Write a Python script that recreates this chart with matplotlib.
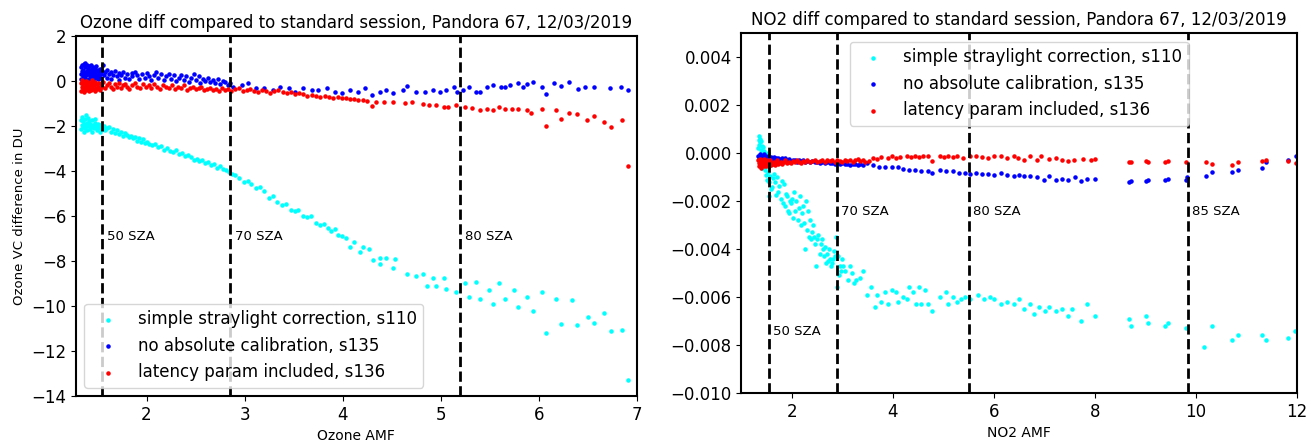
import numpy as np
import matplotlib
matplotlib.use("Agg")
import matplotlib.pyplot as plt

# ---------------- Ozone panel: (AMF, VC difference in DU) ----------------
o3_s110 = [(1.33, -1.75), (1.33, -2.15), (1.34, -1.95), (1.34, -1.6), (1.35, -2.05), (1.35, -1.8),
           (1.36, -2.25), (1.36, -1.9), (1.37, -1.7), (1.37, -2.1), (1.38, -1.5), (1.38, -1.95),
           (1.39, -2.2), (1.39, -1.85), (1.40, -2.0), (1.40, -1.65), (1.41, -1.8), (1.42, -2.15),
           (1.42, -1.9), (1.43, -2.05), (1.44, -1.75), (1.44, -2.25), (1.45, -1.95), (1.46, -2.1),
           (1.47, -1.85), (1.47, -1.7), (1.48, -2.0), (1.49, -2.2), (1.50, -1.9), (1.50, -2.05),
           (1.51, -1.95), (1.52, -2.1), (1.53, -2.25), (1.54, -1.95), (1.55, -2.05), (1.56, -2.15),
           (1.57, -2.0), (1.58, -2.2), (1.60, -2.1), (1.62, -2.05), (1.64, -2.25), (1.66, -2.15),
           (1.68, -2.3), (1.70, -2.2), (1.72, -2.35), (1.74, -2.25), (1.76, -2.45), (1.78, -2.3),
           (1.80, -2.4), (1.82, -2.5), (1.84, -2.45), (1.86, -2.55), (1.88, -2.5), (1.90, -2.65),
           (1.92, -2.55), (1.94, -2.7), (1.96, -2.6), (1.98, -2.75), (2.00, -2.7), (2.03, -2.8),
           (2.06, -2.85), (2.09, -2.8), (2.12, -2.95), (2.15, -2.9), (2.18, -3.05), (2.21, -3.0),
           (2.24, -3.1), (2.27, -3.15), (2.30, -3.05), (2.33, -3.25), (2.36, -3.2), (2.39, -3.35),
           (2.42, -3.3), (2.45, -3.4), (2.48, -3.5), (2.51, -3.45), (2.54, -3.55), (2.57, -3.5),
           (2.60, -3.65), (2.63, -3.6), (2.66, -3.75), (2.69, -3.7), (2.72, -3.85), (2.75, -3.8),
           (2.78, -3.9), (2.81, -3.95), (2.84, -4.05), (2.87, -4.15), (2.90, -4.2), (2.94, -4.3),
           (2.99, -4.5), (3.03, -4.45), (3.07, -4.6), (3.12, -4.75), (3.16, -4.7), (3.20, -4.9),
           (3.25, -5.2), (3.29, -5.1), (3.33, -5.4), (3.38, -5.5), (3.42, -5.45), (3.47, -5.75),
           (3.51, -5.8), (3.55, -5.75), (3.60, -6.0), (3.64, -6.05), (3.68, -6.0), (3.73, -6.3),
           (3.77, -6.4), (3.81, -6.35), (3.85, -6.55), (3.88, -6.65), (3.92, -6.6), (3.95, -6.85),
           (3.99, -6.9), (4.03, -7.0), (4.08, -7.4), (4.12, -7.15), (4.18, -7.6), (4.21, -7.4),
           (4.27, -7.45), (4.31, -7.95), (4.38, -8.15), (4.38, -7.85), (4.44, -7.85), (4.51, -8.3),
           (4.53, -7.9), (4.66, -8.6), (4.75, -8.65), (4.82, -8.6), (4.86, -9.1), (4.92, -8.75),
           (4.95, -9.1), (5.03, -8.75), (5.06, -9.25), (5.16, -9.4), (5.25, -9.0), (5.29, -9.6),
           (5.36, -8.95), (5.40, -9.7), (5.49, -9.3), (5.53, -9.9), (5.60, -9.0), (5.66, -9.7),
           (5.75, -9.3), (5.79, -10.05), (5.88, -9.6), (5.94, -10.2), (6.03, -9.4), (6.08, -11.2),
           (6.18, -9.7), (6.23, -10.8), (6.34, -9.75), (6.39, -10.85), (6.50, -10.5), (6.56, -10.75),
           (6.67, -10.3), (6.74, -11.1), (6.85, -11.05), (6.91, -13.3)]

o3_s135 = [(1.33, 0.6), (1.33, 0.3), (1.33, 0.1), (1.34, 0.45), (1.34, 0.7), (1.35, 0.5), (1.35, 0.2),
           (1.35, 0.05), (1.36, 0.75), (1.36, 0.35), (1.37, 0.8), (1.37, 0.6), (1.37, 0.15), (1.38, 0.4),
           (1.38, 0.25), (1.39, 0.7), (1.39, 0.45), (1.39, 0.05), (1.40, 0.55), (1.40, 0.3), (1.41, 0.65),
           (1.41, 0.4), (1.41, 0.1), (1.42, 0.5), (1.42, 0.2), (1.43, 0.7), (1.43, 0.35), (1.43, 0.15),
           (1.44, 0.55), (1.44, 0.25), (1.45, 0.6), (1.45, 0.4), (1.45, 0.05), (1.46, 0.45), (1.46, 0.2),
           (1.47, 0.55), (1.47, 0.3), (1.48, 0.65), (1.48, 0.15), (1.49, 0.45), (1.49, 0.25), (1.50, 0.5),
           (1.50, 0.1), (1.51, 0.35), (1.51, 0.2), (1.52, 0.55), (1.53, 0.4), (1.53, 0.15), (1.54, 0.3),
           (1.55, 0.45), (1.56, 0.7), (1.57, 0.25), (1.58, 0.4), (1.60, 0.5), (1.60, 0.15), (1.62, 0.3),
           (1.64, 0.4), (1.64, 0.1), (1.66, 0.25), (1.68, 0.45), (1.70, 0.2), (1.72, 0.35), (1.72, 0.05),
           (1.74, 0.25), (1.76, 0.4), (1.78, 0.15), (1.80, 0.3), (1.82, 0.1), (1.85, 0.35), (1.85, 0.2),
           (1.88, 0.4), (1.90, 0.25), (1.92, 0.1), (1.95, 0.3), (1.98, 0.15), (2.00, 0.35), (2.02, 0.2),
           (2.05, 0.05), (2.08, 0.25), (2.10, 0.4), (2.12, 0.15), (2.15, 0.3), (2.18, 0.05), (2.20, 0.2),
           (2.23, 0.3), (2.25, 0.1), (2.28, 0.25), (2.30, 0.0), (2.33, 0.15), (2.35, 0.25), (2.38, 0.05),
           (2.40, 0.2), (2.43, -0.05), (2.45, 0.15), (2.48, 0.3), (2.50, 0.05), (2.53, 0.2), (2.55, -0.1),
           (2.58, 0.1), (2.60, 0.0), (2.63, 0.15), (2.65, -0.05), (2.68, 0.05), (2.70, -0.1), (2.73, 0.1),
           (2.75, -0.15), (2.78, 0.0), (2.80, -0.05), (2.83, -0.2), (2.85, -0.1), (2.88, -0.25),
           (2.97, -0.18), (3.03, -0.1), (3.12, -0.33), (3.20, -0.33), (3.29, -0.4), (3.36, -0.25),
           (3.45, -0.33), (3.51, -0.48), (3.60, -0.33), (3.69, -0.4), (3.75, -0.4), (3.84, -0.33),
           (3.92, -0.48), (3.99, -0.55), (4.08, -0.4), (4.16, -0.48), (4.23, -0.33), (4.30, -0.62),
           (4.38, -0.48), (4.44, -0.4), (4.51, -0.55), (4.62, -0.4), (4.66, -0.22), (4.75, -0.48),
           (4.84, -0.48), (4.92, -0.4), (4.99, -0.48), (5.05, -0.4), (5.14, -0.25), (5.17, -0.48),
           (5.23, -0.4), (5.29, -0.28), (5.36, -0.48), (5.40, -0.48), (5.47, -0.28), (5.53, -0.18),
           (5.62, -0.25), (5.66, -0.28), (5.71, -0.18), (5.79, -0.1), (5.84, -0.28), (5.88, -0.13),
           (5.94, -0.07), (6.03, -0.25), (6.08, -0.58), (6.16, -0.1), (6.23, -0.22), (6.31, -0.07),
           (6.40, -0.37), (6.47, -0.28), (6.56, -0.28), (6.73, -0.33), (6.84, -0.28), (6.91, -0.4)]

o3_s136 = [(1.33, -0.1), (1.33, -0.45), (1.34, -0.25), (1.34, 0.05), (1.35, -0.35), (1.35, -0.15),
           (1.36, -0.5), (1.36, -0.05), (1.37, -0.3), (1.37, -0.2), (1.38, 0.0), (1.38, -0.4),
           (1.39, -0.15), (1.39, -0.35), (1.40, -0.25), (1.40, -0.05), (1.41, -0.45), (1.41, -0.2),
           (1.42, -0.1), (1.42, -0.3), (1.43, -0.4), (1.43, -0.15), (1.44, 0.05), (1.44, -0.25),
           (1.45, -0.35), (1.45, -0.1), (1.46, -0.2), (1.47, -0.45), (1.47, -0.05), (1.48, -0.3),
           (1.49, -0.15), (1.49, -0.35), (1.50, -0.25), (1.51, -0.1), (1.52, -0.3), (1.53, -0.4),
           (1.54, -0.15), (1.55, -0.25), (1.56, -0.05), (1.58, -0.3), (1.60, -0.2), (1.62, -0.1),
           (1.64, -0.25), (1.66, -0.35), (1.68, -0.15), (1.70, -0.25), (1.72, -0.1), (1.74, -0.3),
           (1.76, -0.2), (1.78, -0.15), (1.80, -0.25), (1.82, -0.35), (1.85, -0.2), (1.88, -0.1),
           (1.90, -0.25), (1.93, -0.3), (1.96, -0.15), (1.99, -0.25), (2.02, -0.2), (2.05, -0.3),
           (2.08, -0.15), (2.11, -0.25), (2.14, -0.35), (2.17, -0.2), (2.20, -0.25), (2.23, -0.3),
           (2.26, -0.2), (2.29, -0.35), (2.32, -0.25), (2.35, -0.3), (2.38, -0.2), (2.41, -0.4),
           (2.44, -0.3), (2.47, -0.25), (2.50, -0.35), (2.53, -0.3), (2.56, -0.25), (2.59, -0.4),
           (2.62, -0.35), (2.65, -0.3), (2.68, -0.4), (2.71, -0.35), (2.74, -0.45), (2.77, -0.3),
           (2.80, -0.4), (2.83, -0.35), (2.86, -0.45), (2.90, -0.38), (2.94, -0.3), (2.98, -0.45),
           (3.02, -0.4), (3.06, -0.35), (3.10, -0.45), (3.14, -0.5), (3.18, -0.4), (3.22, -0.45),
           (3.26, -0.55), (3.30, -0.45), (3.34, -0.4), (3.39, -0.5), (3.43, -0.55), (3.47, -0.5),
           (3.51, -0.58), (3.56, -0.55), (3.60, -0.6), (3.64, -0.65), (3.69, -0.62), (3.73, -0.65),
           (3.77, -0.7), (3.82, -0.68), (3.86, -0.7), (3.90, -0.75), (3.95, -0.73), (3.99, -0.78),
           (4.03, -0.77), (4.08, -0.82), (4.12, -0.8), (4.16, -0.85), (4.21, -0.85), (4.25, -0.88),
           (4.30, -1.11), (4.34, -0.92), (4.42, -0.92), (4.51, -0.92), (4.64, -1.0), (4.71, -0.92),
           (4.82, -1.03), (4.88, -1.07), (4.95, -1.07), (5.03, -1.14), (5.08, -1.14), (5.16, -1.08),
           (5.25, -1.17), (5.32, -1.22), (5.40, -1.29), (5.47, -1.25), (5.53, -1.29), (5.60, -1.14),
           (5.66, -1.26), (5.73, -1.26), (5.79, -1.26), (5.88, -1.29), (5.92, -1.44), (6.03, -1.26),
           (6.08, -2.0), (6.18, -1.29), (6.23, -1.69), (6.31, -1.44), (6.39, -1.49), (6.49, -1.74),
           (6.56, -1.55), (6.67, -1.84), (6.74, -2.07), (6.85, -1.74), (6.91, -3.77)]

o3_sza_x = [1.55, 2.85, 5.2]
o3_sza_labels = ["50 SZA", "70 SZA", "80 SZA"]

# ---------------- NO2 panel: (AMF, VC difference in units of 1e-3) ----------------
no2_s110 = [(1.33, 0.2), (1.34, 0.55), (1.34, -0.1), (1.35, 0.7), (1.35, 0.35), (1.36, 0.6), (1.36, -0.25),
            (1.37, 0.45), (1.38, 0.15), (1.38, 0.5), (1.39, -0.4), (1.40, 0.3), (1.40, 0.05), (1.41, -0.6),
            (1.42, 0.25), (1.43, -0.15), (1.43, -0.45), (1.44, 0.1), (1.45, -0.3), (1.46, -0.7), (1.47, -0.05),
            (1.48, -0.9), (1.48, -0.35), (1.50, -1.1), (1.51, -0.55), (1.52, 0.0), (1.53, -0.8), (1.54, -1.8),
            (1.54, -1.2), (1.56, -0.95), (1.58, -1.5), (1.61, -1.4), (1.63, -1.05), (1.65, -0.85), (1.67, -1.2),
            (1.69, -1.75), (1.71, -1.0), (1.73, -1.6), (1.75, -1.35), (1.78, -1.9), (1.80, -1.15), (1.82, -2.1),
            (1.84, -1.3), (1.86, -2.2), (1.88, -1.7), (1.90, -1.8), (1.92, -2.4), (1.94, -2.5), (1.96, -2.0),
            (1.98, -2.1), (2.00, -1.9), (2.02, -2.7), (2.04, -1.6), (2.07, -2.4), (2.09, -2.0), (2.11, -2.8),
            (2.13, -2.3), (2.15, -1.8), (2.17, -3.0), (2.19, -2.5), (2.21, -2.2), (2.23, -2.9), (2.25, -4.0),
            (2.27, -2.0), (2.30, -3.2), (2.32, -2.4), (2.34, -3.5), (2.36, -2.8), (2.38, -3.6), (2.40, -3.3),
            (2.42, -3.0), (2.44, -3.5), (2.46, -3.8), (2.48, -4.7), (2.50, -3.6), (2.52, -3.4), (2.55, -4.2),
            (2.57, -3.8), (2.59, -3.6), (2.61, -4.0), (2.63, -4.3), (2.65, -3.9), (2.67, -4.6), (2.69, -4.2),
            (2.71, -4.5), (2.73, -4.0), (2.75, -4.4), (2.77, -4.7), (2.79, -4.6), (2.81, -4.4), (2.84, -4.1),
            (2.86, -4.3), (2.88, -3.5), (2.90, -5.6), (2.92, -4.3), (2.94, -5.1), (2.96, -4.7), (2.98, -4.9),
            (3.00, -4.4), (3.02, -4.7), (3.06, -4.9), (3.11, -5.3), (3.15, -4.7), (3.19, -5.0), (3.23, -5.4),
            (3.27, -5.3), (3.35, -5.2), (3.41, -4.9), (3.48, -5.9), (3.56, -5.6), (3.65, -6.4), (3.69, -5.9),
            (3.77, -6.2), (3.85, -5.8), (3.90, -6.3), (3.98, -5.7), (4.06, -5.8), (4.10, -6.2), (4.19, -6.0),
            (4.27, -6.1), (4.31, -5.6), (4.39, -5.8), (4.45, -6.3), (4.52, -5.6), (4.56, -6.3), (4.64, -5.7),
            (4.69, -6.3), (4.77, -6.6), (4.93, -6.0), (5.06, -5.8), (5.10, -6.3), (5.18, -6.0), (5.27, -6.2),
            (5.35, -6.1), (5.43, -6.0), (5.52, -6.1), (5.68, -5.9), (5.81, -6.1), (5.93, -6.0), (6.01, -6.1),
            (6.14, -6.3), (6.26, -6.2), (6.39, -6.3), (6.50, -6.1), (6.60, -6.5), (6.72, -6.3), (6.80, -6.7),
            (6.89, -6.4), (7.01, -6.6), (7.09, -6.4), (7.22, -6.6), (7.35, -6.5), (7.47, -6.8), (7.55, -6.5),
            (7.72, -7.0), (7.84, -6.3), (8.01, -6.8), (8.68, -6.9), (8.72, -7.2), (9.01, -6.8), (9.05, -7.1),
            (9.38, -7.2), (9.44, -7.1), (9.80, -7.3), (10.17, -8.1), (10.32, -7.2), (10.71, -7.8),
            (10.84, -7.6), (11.30, -7.6), (11.38, -7.8), (11.83, -7.7), (11.96, -7.4)]

no2_s135 = [(1.33, -0.1), (1.34, -0.3), (1.35, -0.15), (1.36, -0.25), (1.37, -0.05), (1.38, -0.35),
            (1.39, -0.2), (1.40, -0.1), (1.41, -0.3), (1.42, -0.15), (1.43, -0.25), (1.44, -0.05),
            (1.45, -0.35), (1.46, -0.2), (1.47, -0.1), (1.48, -0.3), (1.49, -0.15), (1.50, -0.25),
            (1.51, -0.2), (1.52, -0.1), (1.53, -0.3), (1.54, -0.15), (1.55, -0.25), (1.56, -0.2),
            (1.58, -0.15), (1.60, -0.25), (1.62, -0.2), (1.64, -0.15), (1.66, -0.25), (1.68, -0.2),
            (1.70, -0.3), (1.72, -0.2), (1.75, -0.25), (1.78, -0.3), (1.81, -0.2), (1.84, -0.28),
            (1.87, -0.22), (1.90, -0.3), (1.94, -0.25), (1.98, -0.32), (2.02, -0.28), (2.06, -0.3),
            (2.10, -0.35), (2.14, -0.3), (2.18, -0.33), (2.22, -0.28), (2.26, -0.35), (2.30, -0.32),
            (2.35, -0.36), (2.40, -0.33), (2.45, -0.38), (2.50, -0.35), (2.55, -0.4), (2.60, -0.36),
            (2.65, -0.4), (2.70, -0.38), (2.75, -0.42), (2.80, -0.4), (2.85, -0.44), (2.90, -0.4),
            (2.95, -0.45), (3.00, -0.42), (3.05, -0.46), (3.10, -0.44), (3.15, -0.48), (3.20, -0.45),
            (3.25, -0.47), (3.30, -0.5), (3.35, -0.46), (3.40, -0.49), (3.48, -0.42), (3.60, -0.49),
            (3.73, -0.56), (3.85, -0.56), (3.98, -0.56), (4.10, -0.56), (4.19, -0.65), (4.31, -0.7),
            (4.44, -0.72), (4.56, -0.76), (4.69, -0.76), (4.77, -0.83), (4.93, -0.7), (5.06, -0.76),
            (5.18, -0.76), (5.31, -0.83), (5.43, -0.83), (5.52, -0.86), (5.64, -0.83), (5.77, -0.86),
            (5.89, -0.86), (6.01, -0.9), (6.14, -0.83), (6.26, -0.9), (6.39, -0.95), (6.50, -0.9),
            (6.60, -0.97), (6.72, -0.95), (6.85, -1.0), (7.00, -1.1), (7.09, -0.97), (7.22, -1.1),
            (7.35, -1.08), (7.47, -1.1), (7.60, -1.0), (7.72, -1.15), (7.84, -1.08), (8.01, -1.08),
            (8.68, -1.2), (8.72, -1.18), (9.01, -1.18), (9.05, -1.1), (9.38, -1.1), (9.44, -1.06),
            (9.80, -1.1), (9.82, -1.0), (10.20, -0.97), (10.32, -0.8), (10.71, -0.8), (10.84, -0.7),
            (11.30, -0.6), (11.38, -0.35), (11.83, -0.28), (11.98, -0.1)]

no2_s136 = [(1.33, -0.3), (1.34, -0.55), (1.35, -0.4), (1.36, -0.25), (1.37, -0.5), (1.38, -0.35),
            (1.39, -0.6), (1.40, -0.45), (1.41, -0.3), (1.42, -0.5), (1.43, -0.4), (1.44, -0.55),
            (1.45, -0.25), (1.46, -0.45), (1.47, -0.35), (1.48, -0.55), (1.49, -0.4), (1.50, -0.3),
            (1.51, -0.5), (1.52, -0.45), (1.53, -0.35), (1.54, -0.55), (1.55, -0.4), (1.56, -0.3),
            (1.58, -0.5), (1.60, -0.4), (1.62, -0.45), (1.64, -0.35), (1.66, -0.5), (1.68, -0.4),
            (1.70, -0.3), (1.72, -0.45), (1.75, -0.4), (1.78, -0.35), (1.81, -0.45), (1.84, -0.38),
            (1.87, -0.3), (1.90, -0.42), (1.94, -0.35), (1.98, -0.4), (2.02, -0.32), (2.06, -0.38),
            (2.10, -0.3), (2.14, -0.36), (2.18, -0.4), (2.22, -0.32), (2.26, -0.36), (2.30, -0.3),
            (2.35, -0.38), (2.40, -0.34), (2.45, -0.28), (2.50, -0.36), (2.55, -0.32), (2.60, -0.3),
            (2.65, -0.36), (2.70, -0.28), (2.75, -0.34), (2.80, -0.3), (2.85, -0.35), (2.90, -0.28),
            (2.95, -0.33), (3.00, -0.36), (3.05, -0.3), (3.10, -0.34), (3.15, -0.28), (3.20, -0.35),
            (3.25, -0.3), (3.30, -0.26), (3.35, -0.34), (3.40, -0.3), (3.45, -0.36), (3.52, -0.31),
            (3.60, -0.21), (3.69, -0.25), (3.77, -0.17), (3.90, -0.21), (3.98, -0.14), (4.06, -0.21),
            (4.14, -0.17), (4.27, -0.14), (4.35, -0.17), (4.44, -0.11), (4.52, -0.17), (4.60, -0.11),
            (4.69, -0.14), (4.77, -0.31), (4.93, -0.14), (5.02, -0.17), (5.10, -0.11), (5.18, -0.17),
            (5.27, -0.14), (5.39, -0.21), (5.52, -0.14), (5.64, -0.14), (5.77, -0.17), (5.89, -0.21),
            (6.01, -0.14), (6.14, -0.11), (6.26, -0.21), (6.39, -0.14), (6.47, -0.21), (6.60, -0.28),
            (6.72, -0.14), (6.85, -0.28), (6.93, -0.14), (7.09, -0.25), (7.22, -0.21), (7.35, -0.28),
            (7.47, -0.31), (7.58, -0.28), (7.76, -0.25), (7.93, -0.28), (8.01, -0.25), (8.68, -0.38),
            (8.72, -0.35), (9.01, -0.32), (9.05, -0.38), (9.38, -0.38), (9.44, -0.33), (9.80, -0.35),
            (10.20, -0.39), (10.32, -0.45), (10.71, -0.49), (10.84, -0.39), (11.30, -0.32), (11.38, -0.28),
            (11.83, -0.31), (11.98, -0.42)]

no2_sza_x = [1.55, 2.9, 5.5, 9.85]
no2_sza_labels = ["50 SZA", "70 SZA", "80 SZA", "85 SZA"]

labels = ["simple straylight correction, s110",
          "no absolute calibration, s135",
          "latency param included, s136"]
colors = ["cyan", "blue", "red"]

fig = plt.figure(figsize=(13.1, 4.43), dpi=100)
ax1 = fig.add_axes([0.058, 0.106, 0.428, 0.813])
ax2 = fig.add_axes([0.566, 0.113, 0.424, 0.812])

# Ozone
for pts, lab, c in zip([o3_s110, o3_s135, o3_s136], labels, colors):
    xs, ys = np.array(pts).T
    ax1.scatter(xs, ys, s=5, color=c, label=lab)
for xv, lab in zip(o3_sza_x, o3_sza_labels):
    ax1.axvline(xv, color="black", linestyle="--", linewidth=2)
    ax1.text(xv + 0.05, -7.05, lab, fontsize=9.5)
ax1.set_xlim(1.28, 7)
ax1.set_ylim(-14, 2)
ax1.set_title("Ozone diff compared to standard session, Pandora 67, 12/03/2019", fontsize=12)
ax1.set_xlabel("Ozone AMF", fontsize=10)
ax1.set_ylabel("Ozone VC difference in DU", fontsize=9.5)
ax1.tick_params(labelsize=12)
ax1.legend(loc="lower left", fontsize=12, scatterpoints=1)

# NO2
for pts, lab, c in zip([no2_s110, no2_s135, no2_s136], labels, colors):
    xs, ys = np.array(pts).T
    ax2.scatter(xs, ys * 1e-3, s=5, color=c, label=lab)
for i, (xv, lab) in enumerate(zip(no2_sza_x, no2_sza_labels)):
    ax2.axvline(xv, color="black", linestyle="--", linewidth=2)
    ty = -0.0076 if i == 0 else -0.0026
    ax2.text(xv + 0.08, ty, lab, fontsize=9.5)
ax2.set_xlim(1, 12)
ax2.set_ylim(-0.010, 0.005)
ax2.set_yticks([-0.010, -0.008, -0.006, -0.004, -0.002, 0.000, 0.002, 0.004])
ax2.set_title("NO2 diff compared to standard session, Pandora 67, 12/03/2019", fontsize=12)
ax2.set_xlabel("NO2 AMF", fontsize=10)
ax2.tick_params(labelsize=12)
ax2.legend(loc="upper center", fontsize=12, scatterpoints=1)

for ax in (ax1, ax2):
    for sp in ax.spines.values():
        sp.set_linewidth(1.5)

fig.savefig("out.png", dpi=100)
